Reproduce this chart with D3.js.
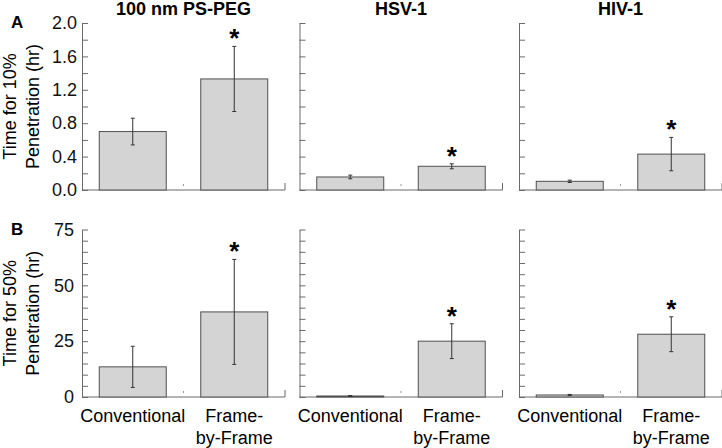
<!DOCTYPE html>
<html>
<head>
<meta charset="utf-8">
<script src="https://cdn.jsdelivr.net/npm/d3@7"></script>
<style>
	body { margin: 0; background: #fff; }
	text { font-family: "Liberation Sans", Arial, sans-serif; }
</style>
</head>
<body>
<div id="chart-area"></div>
<script>
// data
const panels = ["100 nm PS-PEG", "HSV-1", "HIV-1"]
const categories = ["Conventional", "Frame-by-Frame"]
const catLines = [["Conventional"], ["Frame-", "by-Frame"]]

// time for 10% penetration (hr): mean and error per panel [conventional, frame-by-frame]
const t10Mean = [[0.70, 1.33], [0.156, 0.284], [0.104, 0.43]]
const t10Err = [[0.16, 0.39], [0.022, 0.03], [0.014, 0.2]]
// time for 50% penetration (hr)
const t50Mean = [[13.5, 38.1], [0.45, 25.0], [0.9, 28.1]]
const t50Err = [[9.2, 23.5], [0.2, 7.8], [0.25, 7.8]]
const signif = [[false, true], [false, true], [false, true]]

const t10Ticks = [0, 0.4, 0.8, 1.2, 1.6, 2.0]
const t10Minor = [0, 0.2, 0.4, 0.6, 0.8, 1.0, 1.2, 1.4, 1.6, 1.8, 2.0]
const t50Ticks = [0, 25, 50, 75]
const t50Minor = [0, 5, 10, 15, 20, 25, 30, 35, 40, 45, 50, 55, 60, 65, 70, 75]

const WIDTH = 722
const HEIGHT = 448
const PANEL_W = 203
const panelLeft = [82, 299.5, 519]

const rows = [
	{ mean: t10Mean, err: t10Err, ticks: t10Ticks, minor: t10Minor, domain: [0, 2], top: 23, bottom: 190,
		fmt: d3.format(".1f"), pad: 5, letter: "A", letterY: 28, label: ["Time for 10%", "Penetration (hr)"] },
	{ mean: t50Mean, err: t50Err, ticks: t50Ticks, minor: t50Minor, domain: [0, 75], top: 229.5, bottom: 397,
		fmt: d3.format("d"), pad: 8, letter: "B", letterY: 235, label: ["Time for 50%", "Penetration (hr)"] }
]

const AXIS_COLOR = "#6b6b6b"
const BAR_STROKE = "#505050"

const svg = d3.select("#chart-area").append("svg")
	.attr("width", WIDTH)
	.attr("height", HEIGHT)

// x scale shared by all panels
const x = d3.scaleBand()
	.domain(categories)
	.range([0, PANEL_W])
	.paddingInner(0.34)
	.paddingOuter(0.17)

// panel titles
svg.selectAll(".title")
	.data(panels)
	.enter().append("text")
	.attr("class", "title")
	.attr("x", (d, i) => panelLeft[i] + PANEL_W / 2)
	.attr("y", 15)
	.attr("text-anchor", "middle")
	.attr("font-size", "18px")
	.attr("font-weight", "bold")
	.text(d => d)

rows.forEach((row, r) => {
	const y = d3.scaleLinear().domain(row.domain).range([row.bottom, row.top])

	// panel letter
	svg.append("text")
		.attr("x", 11)
		.attr("y", row.letterY)
		.attr("font-size", "17px")
		.attr("font-weight", "bold")
		.text(row.letter)

	// y-axis title, two lines
	const midY = (row.top + row.bottom) / 2
	row.label.forEach((line, k) => {
		svg.append("text")
			.attr("transform", `translate(${16 + k * 22.5}, ${midY}) rotate(-90)`)
			.attr("text-anchor", "middle")
			.attr("font-size", "18px")
			.text(line)
	})

	panels.forEach((p, i) => {
		const g = svg.append("g")
			.attr("transform", `translate(${panelLeft[i]}, 0)`)

		// minor ticks (inward)
		const minorAxis = d3.axisLeft(y)
			.tickValues(row.minor)
			.tickSizeInner(-6)
			.tickSizeOuter(0)
			.tickFormat("")
		const ya = g.append("g").call(minorAxis)
		ya.selectAll("line").attr("stroke", AXIS_COLOR)
		ya.select(".domain").attr("stroke", AXIS_COLOR)

		// labels only on first panel
		if (i === 0) {
			const labelAxis = d3.axisLeft(y)
				.tickValues(row.ticks)
				.tickSize(0)
				.tickPadding(row.pad)
				.tickFormat(row.fmt)
			const la = g.append("g").call(labelAxis)
			la.select(".domain").remove()
			la.selectAll("text")
				.attr("font-size", "18px")
				.attr("font-family", "Liberation Sans, Arial, sans-serif")
				.attr("fill", "#111")
		}

		// x-axis baseline with small marks at band boundaries
		g.append("line")
			.attr("x1", 0).attr("x2", PANEL_W)
			.attr("y1", row.bottom).attr("y2", row.bottom)
			.attr("stroke", AXIS_COLOR)
		g.append("line")
			.attr("x1", PANEL_W).attr("x2", PANEL_W)
			.attr("y1", row.bottom).attr("y2", row.bottom - 7)
			.attr("stroke", AXIS_COLOR)
		g.append("line")
			.attr("x1", PANEL_W / 2).attr("x2", PANEL_W / 2)
			.attr("y1", row.bottom - 4).attr("y2", row.bottom - 6)
			.attr("stroke", "#999")

		const data = categories.map((c, j) => ({
			cat: c, mean: row.mean[i][j], err: row.err[i][j], sig: signif[i][j]
		}))

		// bars
		g.selectAll(".bar")
			.data(data)
			.enter().append("rect")
			.attr("class", "bar")
			.attr("x", d => x(d.cat))
			.attr("y", d => y(d.mean))
			.attr("width", x.bandwidth())
			.attr("height", d => y(0) - y(d.mean))
			.attr("fill", "#d4d4d4")
			.attr("stroke", BAR_STROKE)
			.attr("stroke-width", 1)

		// error bars
		const eb = g.selectAll(".err")
			.data(data)
			.enter().append("g")
			.attr("class", "err")
			.attr("transform", d => `translate(${x(d.cat) + x.bandwidth() / 2}, 0)`)
		eb.append("line")
			.attr("y1", d => y(d.mean + d.err))
			.attr("y2", d => y(d.mean - d.err))
			.attr("stroke", "#333")
		eb.append("line")
			.attr("x1", -2).attr("x2", 2)
			.attr("y1", d => y(d.mean + d.err))
			.attr("y2", d => y(d.mean + d.err))
			.attr("stroke", "#333")
		eb.append("line")
			.attr("x1", -2).attr("x2", 2)
			.attr("y1", d => y(d.mean - d.err))
			.attr("y2", d => y(d.mean - d.err))
			.attr("stroke", "#333")

		// significance stars
		g.selectAll(".star")
			.data(data.filter(d => d.sig))
			.enter().append("text")
			.attr("class", "star")
			.attr("x", d => x(d.cat) + x.bandwidth() / 2)
			.attr("y", d => y(d.mean + d.err) + 1)
			.attr("text-anchor", "middle")
			.attr("font-size", "26px")
			.attr("font-weight", "bold")
			.text("*")

		// category labels under bottom row
		if (r === 1) {
			categories.forEach((c, j) => {
				catLines[j].forEach((line, k) => {
					g.append("text")
						.attr("x", x(c) + x.bandwidth() / 2)
						.attr("y", 422 + k * 22)
						.attr("text-anchor", "middle")
						.attr("font-size", "18px")
						.text(line)
				})
			})
		}
	})
})
</script>
</body>
</html>
